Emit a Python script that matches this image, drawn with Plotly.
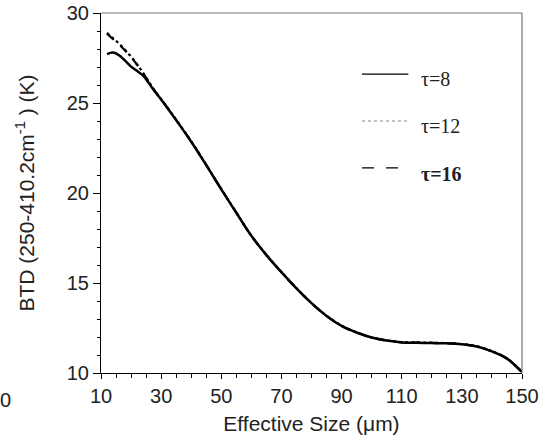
import plotly.graph_objects as go

# Effective size (um)
x_size = [12, 14, 16, 18, 20, 22, 24, 26, 28, 30, 35, 40, 45, 50, 55, 60, 65, 70,
          75, 80, 85, 90, 95, 100, 105, 110, 115, 120, 125, 130, 135, 140, 145, 150]

btd_tau8 = [27.72, 27.80, 27.65, 27.35, 27.02, 26.78, 26.52, 26.08, 25.62, 25.20,
            24.05, 22.85, 21.55, 20.20, 18.90, 17.62, 16.55, 15.60, 14.70, 13.88,
            13.17, 12.62, 12.25, 11.97, 11.80, 11.70, 11.68, 11.66, 11.65, 11.60,
            11.47, 11.20, 10.80, 10.05]

btd_tau12 = [28.90, 28.60, 28.30, 27.95, 27.58, 27.15, 26.68, 26.15, 25.66, 25.22,
             24.07, 22.87, 21.57, 20.22, 18.92, 17.63, 16.57, 15.61, 14.71, 13.89,
             13.18, 12.63, 12.26, 11.98, 11.81, 11.72, 11.70, 11.68, 11.66, 11.61,
             11.48, 11.21, 10.81, 10.06]

btd_tau16 = [28.85, 28.55, 28.25, 27.92, 27.55, 27.12, 26.66, 26.13, 25.64, 25.20,
             24.05, 22.86, 21.56, 20.21, 18.91, 17.62, 16.56, 15.60, 14.70, 13.88,
             13.17, 12.62, 12.25, 11.97, 11.80, 11.71, 11.69, 11.67, 11.65, 11.60,
             11.47, 11.20, 10.80, 10.05]

legend_labels = ["τ=8", "τ=12", "τ=16"]

fig = go.Figure()
fig.add_trace(go.Scatter(x=x_size, y=btd_tau8, mode="lines", name=legend_labels[0],
                         line=dict(color="black", width=2.5, dash="solid", shape="spline")))
fig.add_trace(go.Scatter(x=x_size, y=btd_tau12, mode="lines", name=legend_labels[1],
                         line=dict(color="black", width=2.2, dash="dot", shape="spline")))
fig.add_trace(go.Scatter(x=x_size, y=btd_tau16, mode="lines", name=legend_labels[2],
                         line=dict(color="black", width=2.2, dash="dash", shape="spline")))

tick_font = dict(family="Liberation Sans, Arial, sans-serif", size=20, color="#222")
title_font = dict(family="Liberation Sans, Arial, sans-serif", size=21, color="#222")

fig.update_xaxes(range=[10, 150], tick0=10, dtick=20, ticks="outside", ticklen=5,
                 tickcolor="black", tickwidth=1, showline=True, linecolor="black",
                 linewidth=1.2, showgrid=False, zeroline=False, tickfont=tick_font,
                 automargin=False,
                 minor=dict(tick0=10, dtick=5, ticks="outside", ticklen=4,
                            tickcolor="black", showgrid=False),
                 title=dict(text="Effective Size (μm)", font=title_font, standoff=10))
fig.update_yaxes(range=[10, 30], tick0=10, dtick=5, ticks="outside", ticklen=7,
                 tickcolor="black", tickwidth=1, showline=True, linecolor="black",
                 linewidth=1.2, showgrid=False, zeroline=False, tickfont=tick_font,
                 automargin=False,
                 minor=dict(tick0=10, dtick=1, ticks="outside", ticklen=3,
                            tickcolor="black", showgrid=False),
                 title=dict(text="BTD (250-410.2cm<sup>-1</sup> ) (K)", font=title_font,
                            standoff=26))

# top and right frame lines
fig.add_shape(type="line", xref="paper", yref="paper", x0=0, x1=1, y0=1, y1=1,
              line=dict(color="#777", width=1.2))
fig.add_shape(type="line", xref="paper", yref="paper", x0=1, x1=1, y0=0, y1=1,
              line=dict(color="#777", width=1.2))

# manual legend
leg_y = [0.83, 0.70, 0.57]
leg_text_y = [0.817, 0.687, 0.553]
leg_dash = ["solid", "dot", "12px,12px"]
leg_x1 = [0.73, 0.73, 0.708]
leg_color = ["black", "#888", "black"]
for lab, yy, ty, dsh, x1, c in zip(legend_labels, leg_y, leg_text_y, leg_dash, leg_x1, leg_color):
    fig.add_shape(type="line", xref="paper", yref="paper", x0=0.62, x1=x1,
                  y0=yy, y1=yy, line=dict(color=c, width=1.2, dash=dsh))
    txt = "<b>" + lab + "</b>" if lab == "τ=16" else lab
    fig.add_annotation(xref="paper", yref="paper", x=0.755, y=ty, text=txt,
                       showarrow=False, xanchor="left", yanchor="middle",
                       font=dict(family="Liberation Serif, Times New Roman, serif",
                                 size=20, color="#222"))

# stray "0" from neighbouring panel
fig.add_annotation(xref="paper", yref="paper", x=-0.228, y=-0.075, text="0",
                   showarrow=False, xanchor="center", yanchor="middle", font=tick_font)

fig.update_layout(width=546, height=442, margin=dict(l=101, r=24, t=13, b=69),
                  plot_bgcolor="white", paper_bgcolor="white", showlegend=False)

fig.write_html("out.html")
